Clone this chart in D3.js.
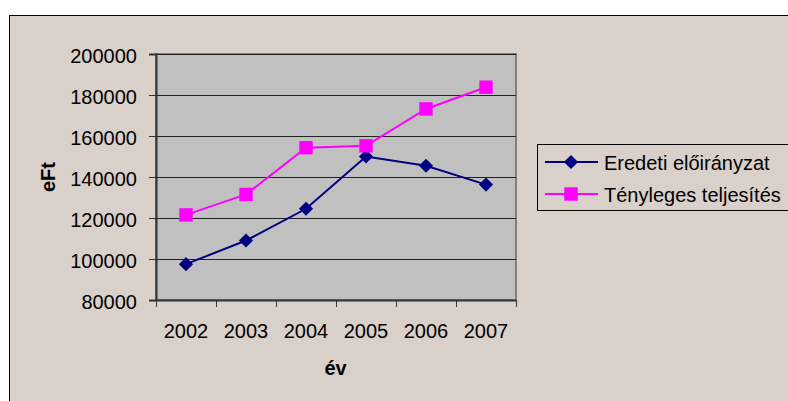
<!DOCTYPE html>
<html>
<head>
<meta charset="utf-8">
<script src="https://cdn.jsdelivr.net/npm/d3@7"></script>
<style>
  body { margin: 0; background: #fff; }
  text { font-family: "Liberation Sans", Arial, sans-serif; }
</style>
</head>
<body>
<div id="chart"></div>
<script>
var width = 788;
var height = 401;

var years = ["2002", "2003", "2004", "2005", "2006", "2007"];
var eredeti = [97500, 109000, 124500, 150000, 145500, 136300];
var tenyleges = [121500, 131500, 154300, 155200, 173200, 183800];
var yTicks = [80000, 100000, 120000, 140000, 160000, 180000, 200000];
var seriesNames = ["Eredeti előirányzat", "Tényleges teljesítés"];
var seriesColors = ["#000080", "#ff00ff"];

var plot = { left: 156, top: 54, right: 516, bottom: 300 };

var svg = d3.select("#chart").append("svg")
    .attr("width", width)
    .attr("height", height);

// chart area
svg.append("rect")
    .attr("x", 9.5).attr("y", 15.5)
    .attr("width", width + 10).attr("height", height + 10)
    .attr("fill", "#d9d0ca")
    .attr("stroke", "#000");

var x = d3.scaleBand().domain(years).range([plot.left, plot.right]);
var y = d3.scaleLinear().domain([80000, 200000]).range([plot.bottom, plot.top]);

// plot area
svg.append("rect")
    .attr("x", plot.left).attr("y", plot.top)
    .attr("width", plot.right - plot.left).attr("height", plot.bottom - plot.top)
    .attr("fill", "#c0c0c0")
    .attr("stroke", "#808080")
    .attr("stroke-width", 2);

// gridlines
svg.append("g").selectAll("line").data(yTicks.slice(1)).enter()
    .append("line")
    .attr("x1", plot.left).attr("x2", plot.right)
    .attr("y1", function(d){ return Math.round(y(d)) + 0.5 })
    .attr("y2", function(d){ return Math.round(y(d)) + 0.5 })
    .attr("stroke", "#222")
    .attr("stroke-width", 1);

// y axis
var yAxis = svg.append("g")
    .attr("transform", "translate(" + plot.left + ",0)")
    .call(d3.axisLeft(y).tickValues(yTicks).tickSize(7).tickPadding(12).tickFormat(d3.format("d")));
yAxis.select(".domain").attr("stroke", "#333").attr("stroke-width", 2);
yAxis.selectAll(".tick line").attr("stroke", "#333").attr("stroke-width", 1);
yAxis.selectAll("text").attr("font-size", 20).attr("fill", "#000").attr("dy", "0.4em")
    .attr("font-family", "Liberation Sans, Arial, sans-serif");

// x axis
var xAxis = svg.append("g")
    .attr("transform", "translate(0," + plot.bottom + ")")
    .call(d3.axisBottom(x).tickSize(0).tickPadding(24));
xAxis.select(".domain").attr("stroke", "#333").attr("stroke-width", 2);
xAxis.selectAll("text").attr("font-size", 20).attr("fill", "#000")
    .attr("font-family", "Liberation Sans, Arial, sans-serif");

// category separator ticks
var bounds = years.map(function(d){ return x(d) }).concat([x(years[years.length - 1]) + x.bandwidth()]);
svg.append("g").selectAll("line").data(bounds).enter()
    .append("line")
    .attr("x1", function(d){ return Math.round(d) + 0.5 })
    .attr("x2", function(d){ return Math.round(d) + 0.5 })
    .attr("y1", plot.bottom).attr("y2", plot.bottom + 7)
    .attr("stroke", "#333");

// axis titles
svg.append("text")
    .attr("transform", "translate(55," + ((plot.top + plot.bottom) / 2) + ") rotate(-90)")
    .attr("text-anchor", "middle")
    .attr("font-size", 20).attr("font-weight", "bold")
    .text("eFt");

svg.append("text")
    .attr("x", (plot.left + plot.right) / 2 - 0.5).attr("y", 375)
    .attr("text-anchor", "middle")
    .attr("font-size", 20).attr("font-weight", "bold")
    .text("év");

// series
var line = d3.line()
    .x(function(d, i){ return x(years[i]) + x.bandwidth() / 2 })
    .y(function(d){ return y(d) });

var diamond = d3.symbol().type(d3.symbolSquare).size(100);
var square = d3.symbol().type(d3.symbolSquare).size(180);

function drawMarker(g, k, cx, cy) {
  if (k === 0) {
    g.append("path").attr("d", diamond())
      .attr("transform", "translate(" + cx + "," + cy + ") rotate(45)")
      .attr("fill", seriesColors[k]);
  } else {
    g.append("path").attr("d", square())
      .attr("transform", "translate(" + cx + "," + cy + ")")
      .attr("fill", seriesColors[k]);
  }
}

[eredeti, tenyleges].forEach(function(values, k) {
  var g = svg.append("g");
  g.append("path")
    .datum(values)
    .attr("fill", "none")
    .attr("stroke", seriesColors[k])
    .attr("stroke-width", 2)
    .attr("d", line);
  values.forEach(function(v, i) {
    drawMarker(g, k, x(years[i]) + x.bandwidth() / 2, y(v));
  });
});

// legend
var legend = svg.append("g");
legend.append("rect")
    .attr("x", 537.5).attr("y", 144.5)
    .attr("width", 260).attr("height", 66)
    .attr("fill", "#d9d0ca")
    .attr("stroke", "#000");

seriesNames.forEach(function(name, k) {
  var ly = 162 + k * 32;
  legend.append("line")
    .attr("x1", 545).attr("x2", 598)
    .attr("y1", ly).attr("y2", ly)
    .attr("stroke", seriesColors[k]).attr("stroke-width", 2);
  drawMarker(legend, k, 571, ly);
  legend.append("text")
    .attr("x", 604).attr("y", ly + 8)
    .attr("font-size", 20)
    .text(name);
});
</script>
</body>
</html>
